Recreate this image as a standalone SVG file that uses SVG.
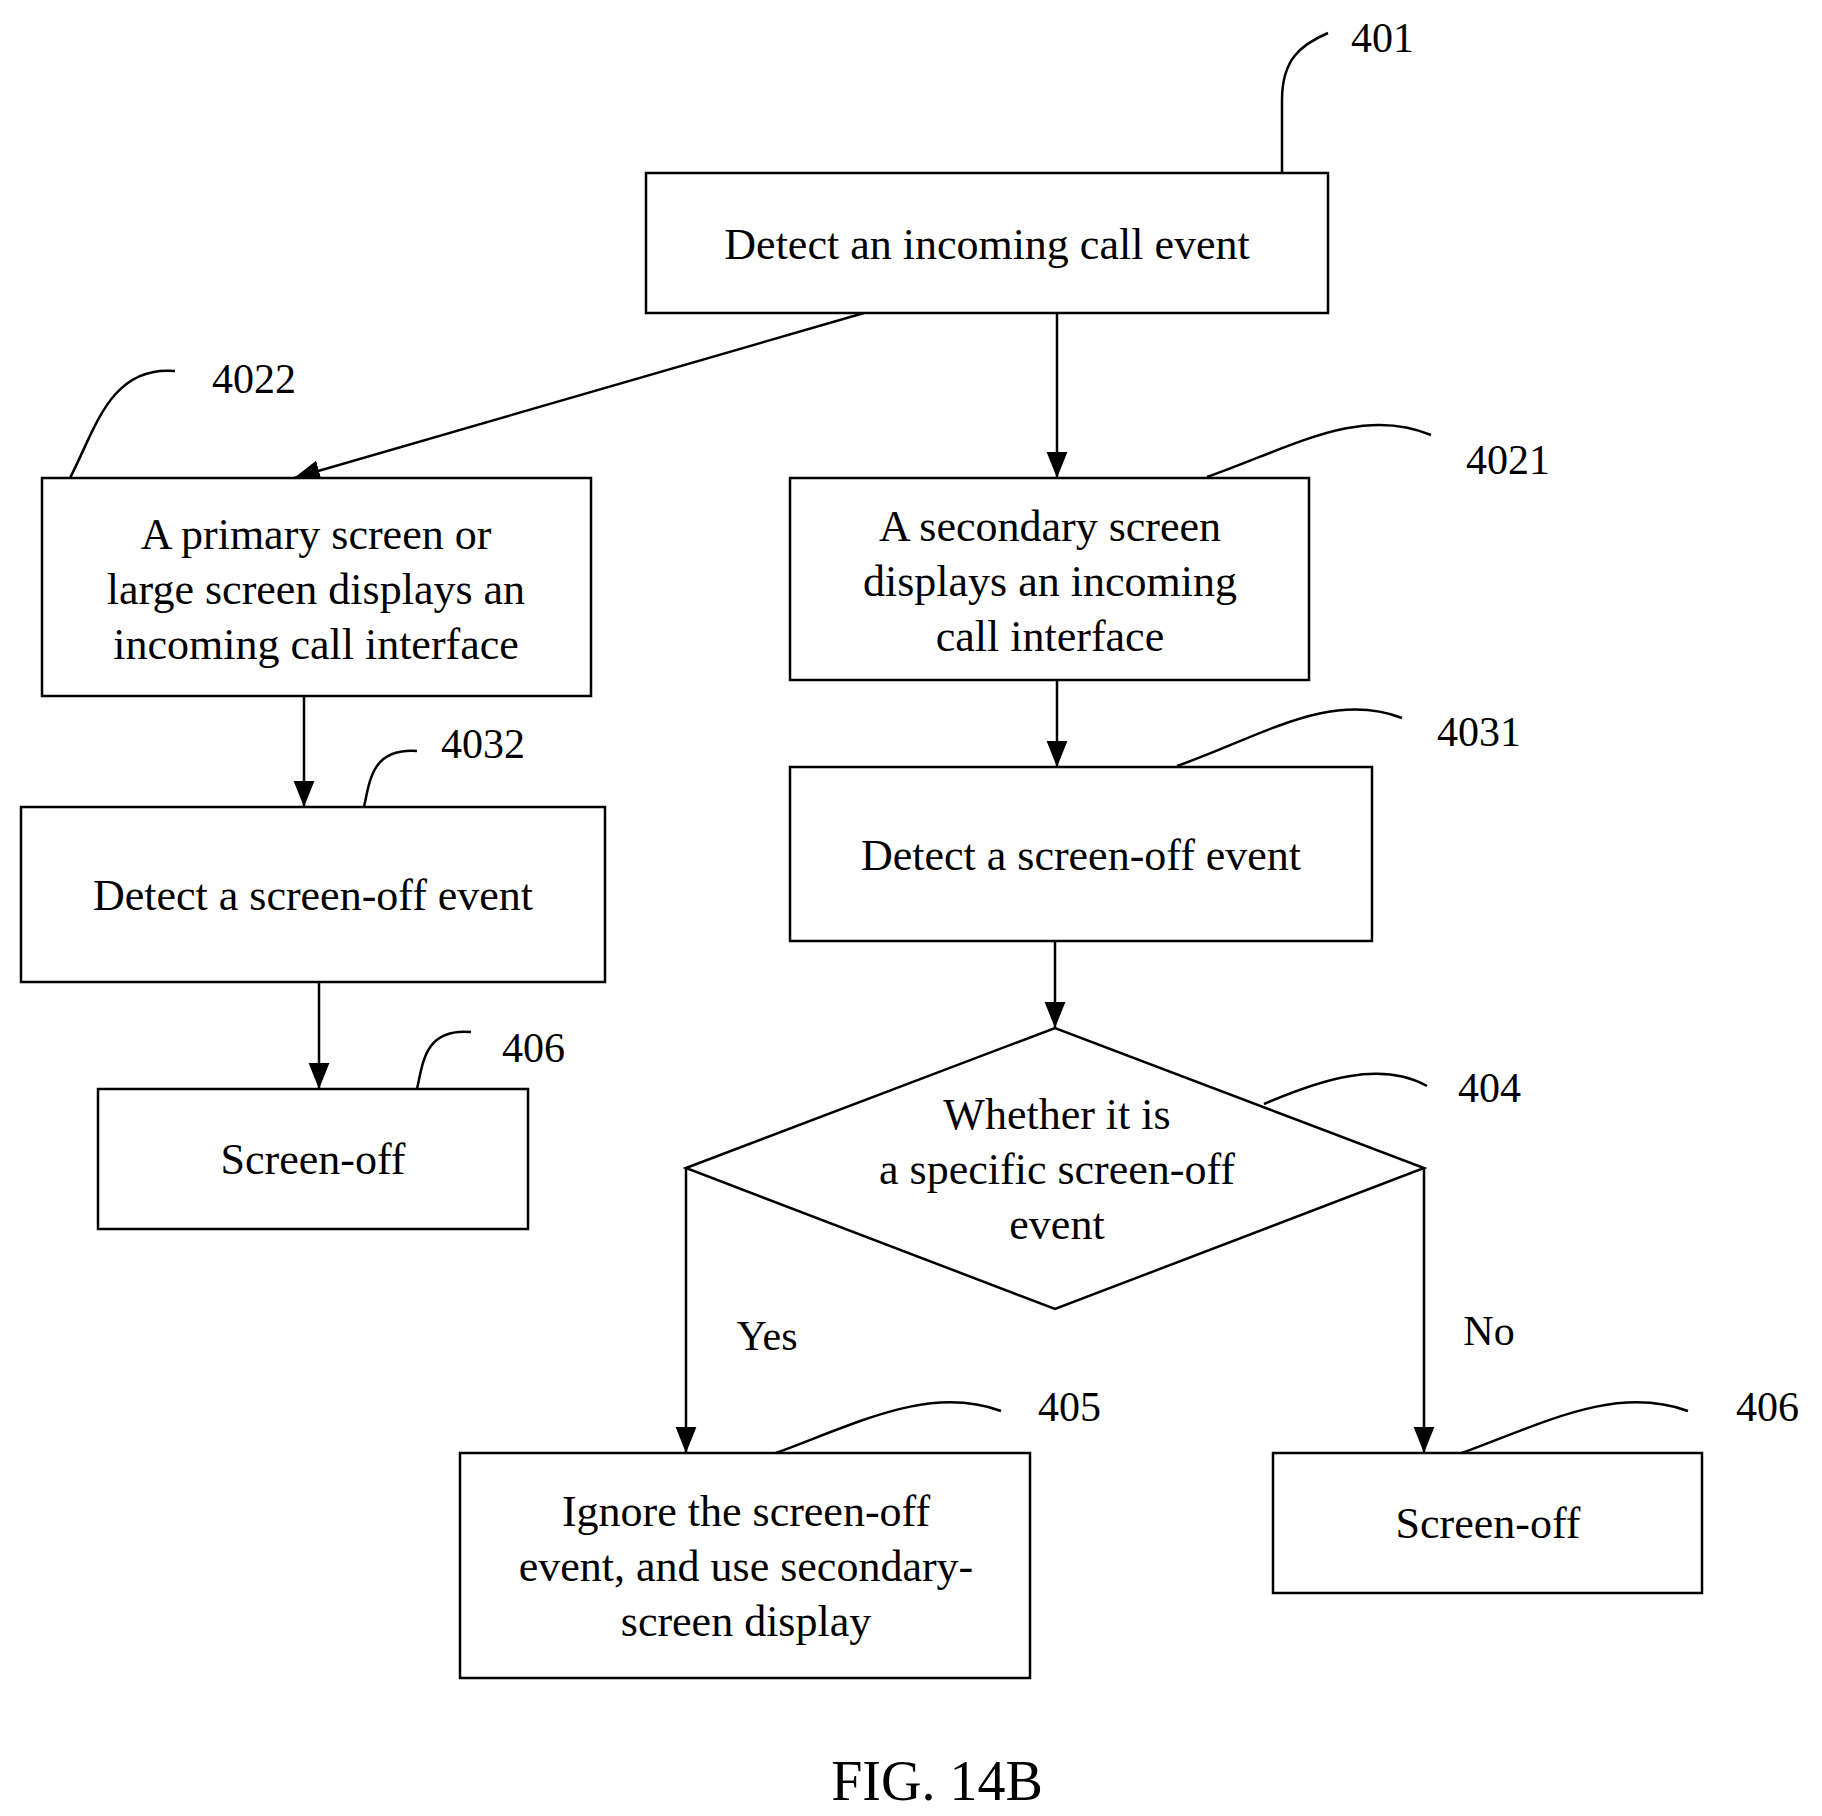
<svg xmlns="http://www.w3.org/2000/svg" width="1822" height="1816" viewBox="0 0 1822 1816">
<defs>
<marker id="ah" viewBox="0 0 10 10" refX="10" refY="5" markerWidth="10" markerHeight="10" markerUnits="userSpaceOnUse" orient="auto"><path d="M0,0 L10,5 L0,10 z" fill="#000"/></marker>
<marker id="a" viewBox="0 0 20 20" refX="20" refY="10" markerWidth="26" markerHeight="26" markerUnits="userSpaceOnUse" orient="auto"><path d="M0,2 L20,10 L0,18 z" fill="#000"/></marker>
<style>
.b{fill:#fff;stroke:#000;stroke-width:2.5}
.t{font-family:"Liberation Serif",serif;font-size:44px;text-anchor:middle;fill:#000}
.n{font-family:"Liberation Serif",serif;font-size:42px;fill:#000}
.c{fill:none;stroke:#000;stroke-width:2.5}
.l{fill:none;stroke:#000;stroke-width:2.5}
</style>
</defs>
<rect width="1822" height="1816" fill="#fff"/>
<g id="connectors">
<path class="c" d="M864,313 L294,478" marker-end="url(#a)"/>
<path class="c" d="M1057,313 L1057,478" marker-end="url(#a)"/>
<path class="c" d="M304,696 L304,807" marker-end="url(#a)"/>
<path class="c" d="M1057,680 L1057,767" marker-end="url(#a)"/>
<path class="c" d="M319,982 L319,1089" marker-end="url(#a)"/>
<path class="c" d="M1055,941 L1055,1028" marker-end="url(#a)"/>
<path class="c" d="M686,1168 L686,1453" marker-end="url(#a)"/>
<path class="c" d="M1424,1168 L1424,1453" marker-end="url(#a)"/>
<text class="n" x="767" y="1350" text-anchor="middle">Yes</text>
<text class="n" x="1489" y="1345" text-anchor="middle">No</text>
</g>
<g id="leaders">
<path class="l" d="M1282,173 L1282,100 C1282,60 1300,45 1328,33"/>
<path class="l" d="M70,478 C95,430 110,365 175,371"/>
<path class="l" d="M1207,477 C1290,448 1360,405 1431,435"/>
<path class="l" d="M364,807 C370,780 372,748 417,751"/>
<path class="l" d="M1177,766 C1260,737 1330,690 1402,718"/>
<path class="l" d="M417,1089 C423,1062 425,1028 471,1032"/>
<path class="l" d="M1264,1104 C1320,1080 1380,1060 1427,1086"/>
<path class="l" d="M776,1453 C860,1422 930,1385 1001,1411"/>
<path class="l" d="M1462,1453 C1546,1422 1616,1385 1688,1411"/>
<text class="n" x="1351" y="52">401</text>
<text class="n" x="212" y="393">4022</text>
<text class="n" x="1466" y="474">4021</text>
<text class="n" x="441" y="758">4032</text>
<text class="n" x="1437" y="746">4031</text>
<text class="n" x="502" y="1062">406</text>
<text class="n" x="1458" y="1102">404</text>
<text class="n" x="1038" y="1421">405</text>
<text class="n" x="1736" y="1421">406</text>
</g>
<g id="n401"><rect class="b" x="646" y="173" width="682" height="140"/><text class="t" x="987" y="259">Detect an incoming call event</text></g>
<g id="n4022"><rect class="b" x="42" y="478" width="549" height="218"/><text class="t" x="316" y="549">A primary screen or</text><text class="t" x="316" y="604">large screen displays an</text><text class="t" x="316" y="659">incoming call interface</text></g>
<g id="n4021"><rect class="b" x="790" y="478" width="519" height="202"/><text class="t" x="1050" y="541">A secondary screen</text><text class="t" x="1050" y="596">displays an incoming</text><text class="t" x="1050" y="651">call interface</text></g>
<g id="n4032"><rect class="b" x="21" y="807" width="584" height="175"/><text class="t" x="313" y="910">Detect a screen-off event</text></g>
<g id="n4031"><rect class="b" x="790" y="767" width="582" height="174"/><text class="t" x="1081" y="870">Detect a screen-off event</text></g>
<g id="n406a"><rect class="b" x="98" y="1089" width="430" height="140"/><text class="t" x="313" y="1174">Screen-off</text></g>
<g id="n404"><path class="b" d="M686,1168 L1055,1028 L1424,1168 L1055,1309 Z"/><text class="t" x="1057" y="1129">Whether it is</text><text class="t" x="1057" y="1184">a specific screen-off</text><text class="t" x="1057" y="1239">event</text></g>
<g id="n405"><rect class="b" x="460" y="1453" width="570" height="225"/><text class="t" x="746" y="1526">Ignore the screen-off</text><text class="t" x="746" y="1581">event, and use secondary-</text><text class="t" x="746" y="1636">screen display</text></g>
<g id="n406b"><rect class="b" x="1273" y="1453" width="429" height="140"/><text class="t" x="1488" y="1538">Screen-off</text></g>
<text x="937" y="1800" font-family="Liberation Serif,serif" font-size="56" text-anchor="middle">FIG. 14B</text>
</svg>
